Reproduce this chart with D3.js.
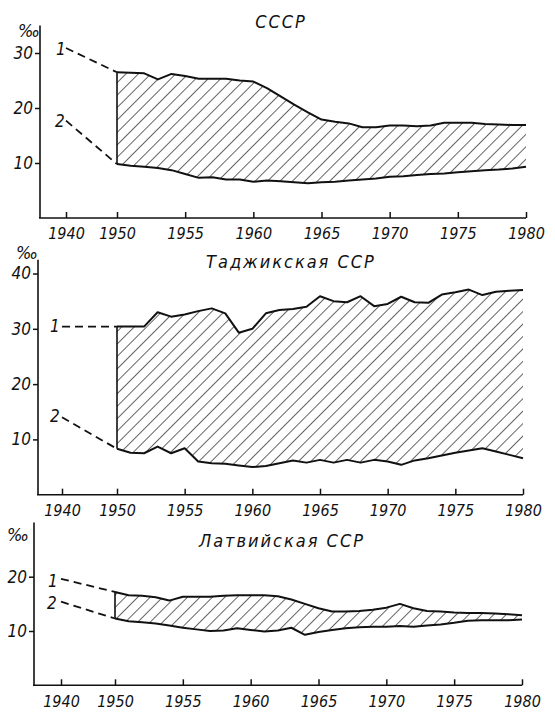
<!DOCTYPE html>
<html>
<head>
<meta charset="utf-8">
<script src="https://cdn.jsdelivr.net/npm/d3@7"></script>
<style>
  body { margin: 0; background: #fff; }
  svg text { font-family: "DejaVu Sans Condensed", "DejaVu Sans", sans-serif; font-style: italic; fill: #111; }
</style>
</head>
<body>
<svg id="chart" width="555" height="712"></svg>
<script>
// годы 1950-1980
var years = [1950,1951,1952,1953,1954,1955,1956,1957,1958,1959,1960,1961,1962,1963,1964,1965,
             1966,1967,1968,1969,1970,1971,1972,1973,1974,1975,1976,1977,1978,1979,1980];

// СССР
var ussrBirth = [26.5,26.4,26.3,25.2,26.2,25.8,25.3,25.3,25.3,25.0,24.8,23.6,22.1,20.6,19.2,17.9,
                 17.5,17.2,16.5,16.5,16.8,16.8,16.7,16.8,17.3,17.3,17.3,17.1,17.0,16.9,16.9];
var ussrDeath = [9.8,9.5,9.3,9.1,8.7,8.0,7.3,7.4,7.0,7.0,6.6,6.8,6.7,6.5,6.3,6.5,
                 6.6,6.8,7.0,7.2,7.5,7.6,7.8,8.0,8.1,8.3,8.5,8.7,8.8,9.0,9.3];

// Таджикская ССР
var tajBirth = [30.4,30.4,30.4,33.0,32.2,32.6,33.2,33.7,32.8,29.3,30.0,32.8,33.4,33.6,34.0,35.9,
                35.0,34.8,35.9,34.1,34.5,35.8,34.8,34.7,36.2,36.6,37.1,36.1,36.7,36.9,37.0];
var tajDeath = [8.3,7.6,7.5,8.7,7.5,8.4,6.0,5.7,5.6,5.3,5.0,5.2,5.7,6.2,5.8,6.3,
                5.8,6.3,5.8,6.3,6.0,5.4,6.2,6.6,7.1,7.6,8.0,8.4,7.8,7.2,6.6];

// Латвийская ССР
var latBirth = [17.2,16.6,16.5,16.2,15.6,16.3,16.3,16.3,16.5,16.6,16.6,16.6,16.4,15.8,15.0,14.2,
                13.6,13.6,13.7,13.9,14.3,15.0,14.2,13.7,13.6,13.4,13.3,13.3,13.2,13.1,12.9];
var latDeath = [12.3,11.8,11.6,11.4,11.0,10.6,10.3,10.0,10.1,10.5,10.2,9.9,10.1,10.6,9.3,9.8,
                10.2,10.5,10.7,10.8,10.8,10.9,10.8,11.0,11.2,11.5,11.9,12.0,12.0,12.0,12.1];

// 1940 (штриховые линии)
var birth1940 = [30.9, 30.4, 19.6];
var death1940 = [17.7, 14.0, 15.4];

var titles = ["СССР", "Таджикская ССР", "Латвийская ССР"];
var xTicks = [1940, 1950, 1955, 1960, 1965, 1970, 1975, 1980];
var yTicksUssr = [10, 20, 30];
var yTicksTaj = [10, 20, 30, 40];
var yTicksLat = [10, 20];

var svg = d3.select("#chart");

// штриховка
svg.append("defs").append("pattern")
  .attr("id", "hatch")
  .attr("patternUnits", "userSpaceOnUse")
  .attr("width", 8.8).attr("height", 8.8)
  .attr("patternTransform", "rotate(45)")
  .append("line")
  .attr("x1", 0).attr("y1", 0).attr("x2", 0).attr("y2", 8.8)
  .attr("stroke", "#111").attr("stroke-width", 1.3);

var panels = [
  {title: titles[0], birth: ussrBirth, death: ussrDeath, yTicks: yTicksUssr, ymax: 35,
   axisX: 40, xr: [66, 117, 526], yr: [218, 25.5], titleX: 281, titleY: 28,
   l1: [56, 55], l2: [55, 127], pm: [18, 37]},
  {title: titles[1], birth: tajBirth, death: tajDeath, yTicks: yTicksTaj, ymax: 42.5,
   axisX: 38, xr: [62, 117, 523], yr: [494.7, 259.7], titleX: 291, titleY: 268,
   l1: [50, 332], l2: [50, 422], pm: [16, 259]},
  {title: titles[2], birth: latBirth, death: latDeath, yTicks: yTicksLat, ymax: 30,
   axisX: 34, xr: [61, 115, 522], yr: [685.3, 522.4], titleX: 282, titleY: 547,
   l1: [48, 587], l2: [47, 609], pm: [7, 541]}
];

panels.forEach(function(p, k) {
  var g = svg.append("g");

  var x = d3.scaleLinear().domain([1940, 1950, 1980]).range(p.xr);
  var y = d3.scaleLinear().domain([0, p.ymax]).range(p.yr);

  var area = d3.area()
    .x(function(d, i) { return x(years[i]); })
    .y0(function(d, i) { return y(p.death[i]); })
    .y1(function(d, i) { return y(p.birth[i]); });

  g.append("path")
    .attr("d", area(years))
    .attr("fill", "url(#hatch)");

  var line = d3.line()
    .x(function(d, i) { return x(years[i]); })
    .y(function(d) { return y(d); });

  [p.birth, p.death].forEach(function(s) {
    g.append("path")
      .attr("d", line(s))
      .attr("fill", "none")
      .attr("stroke", "#111")
      .attr("stroke-width", 2)
      .attr("stroke-linejoin", "round");
  });

  // левая граница 1950
  g.append("line")
    .attr("x1", x(1950)).attr("x2", x(1950))
    .attr("y1", y(p.birth[0])).attr("y2", y(p.death[0]))
    .attr("stroke", "#111").attr("stroke-width", 1.6);

  // штриховые 1940-1950
  var dash = d3.line().x(function(d) { return x(d[0]); }).y(function(d) { return y(d[1]); });
  [[birth1940[k], p.birth[0]], [death1940[k], p.death[0]]].forEach(function(v) {
    g.append("path")
      .attr("d", dash([[1940, v[0]], [1950, v[1]]]))
      .attr("fill", "none")
      .attr("stroke", "#111")
      .attr("stroke-width", 1.8)
      .attr("stroke-dasharray", "8,5");
  });

  // оси
  var xa = g.append("g")
    .attr("transform", "translate(0," + y(0) + ")")
    .call(d3.axisBottom(x).tickValues(xTicks).tickFormat(d3.format("d"))
      .tickSizeInner(-6).tickSizeOuter(0).tickPadding(10));
  xa.select(".domain").remove();
  xa.selectAll(".tick line").attr("stroke", "#111").attr("stroke-width", 1.5);
  xa.selectAll("text").attr("font-size", 16).attr("fill", "#111");
  xa.attr("font-family", null);

  g.append("line")
    .attr("x1", p.axisX - 1).attr("x2", x(1980))
    .attr("y1", y(0)).attr("y2", y(0))
    .attr("stroke", "#111").attr("stroke-width", 1.6);

  var ya = g.append("g")
    .attr("transform", "translate(" + p.axisX + ",0)")
    .call(d3.axisLeft(y).tickValues(p.yTicks).tickSize(5).tickPadding(2));
  ya.select(".domain").remove();
  ya.selectAll(".tick line").attr("stroke", "#111").attr("stroke-width", 1.5);
  ya.selectAll("text").attr("font-size", 17).attr("fill", "#111");
  ya.attr("font-family", null);

  g.append("line")
    .attr("x1", p.axisX).attr("x2", p.axisX)
    .attr("y1", y(0)).attr("y2", y(p.ymax))
    .attr("stroke", "#111").attr("stroke-width", 1.6);

  // подписи
  g.append("text")
    .attr("x", p.titleX).attr("y", p.titleY)
    .attr("text-anchor", "middle")
    .attr("font-size", 18)
    .attr("letter-spacing", 2)
    .text(p.title);

  g.append("text").attr("x", p.pm[0]).attr("y", p.pm[1]).attr("font-size", 18).text("‰");
  g.append("text").attr("x", p.l1[0]).attr("y", p.l1[1]).attr("font-size", 17).text("1");
  g.append("text").attr("x", p.l2[0]).attr("y", p.l2[1]).attr("font-size", 17).text("2");
});
</script>
</body>
</html>
